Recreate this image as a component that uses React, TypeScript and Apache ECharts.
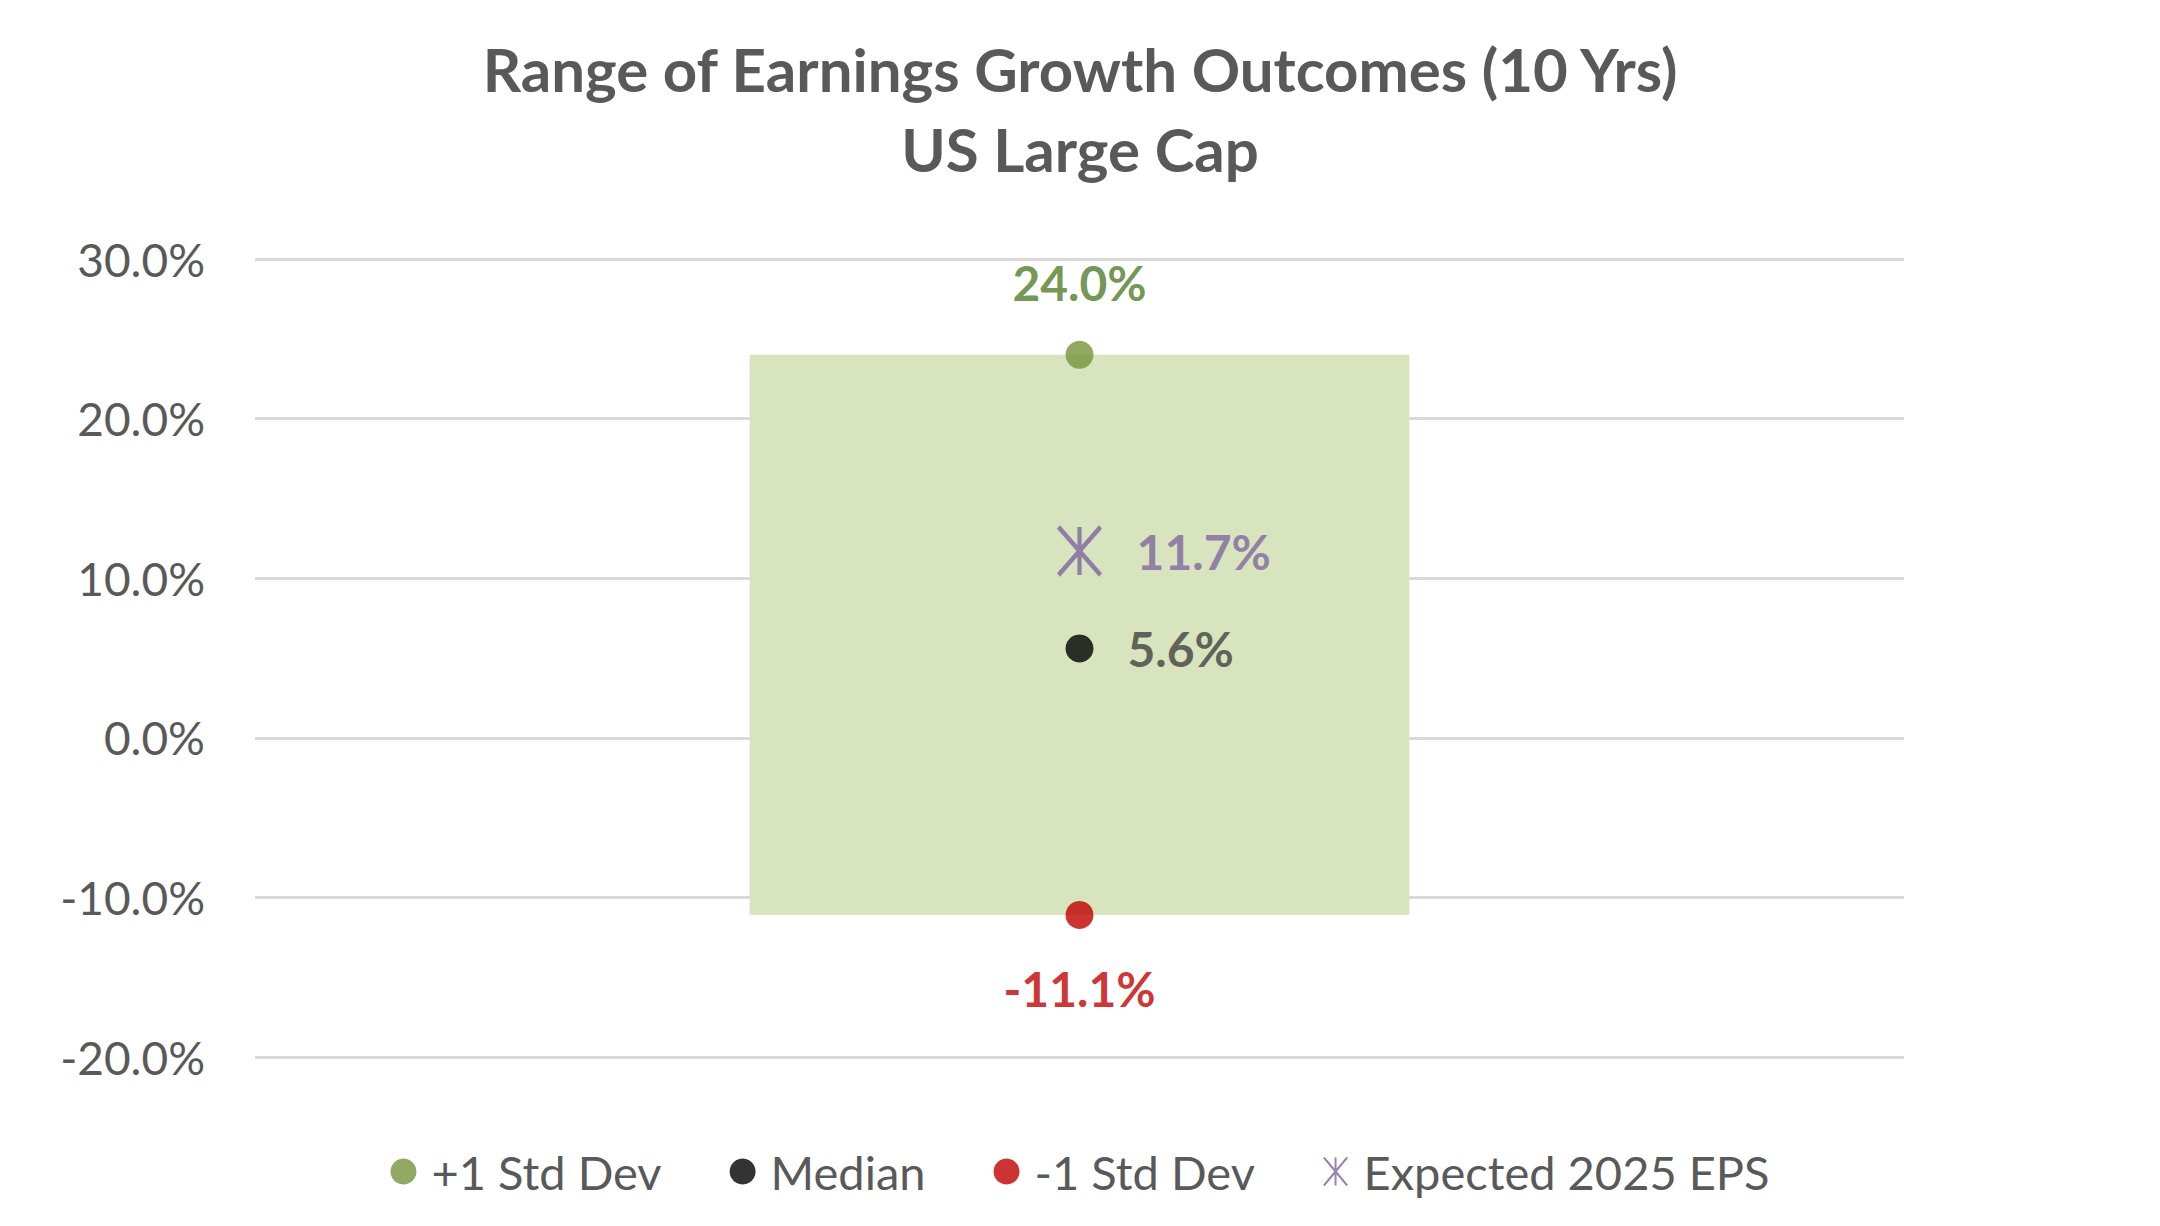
import React, { useEffect, useRef } from "react";
import * as echarts from "echarts";

const categories = ["US Large Cap"];
const plusStdDev = [24.0];
const median = [5.6];
const minusStdDev = [-11.1];
const expectedEps = [11.7];
const yTicks = { min: -20, max: 30, interval: 10 };

const FONT = "Lato, 'Open Sans', sans-serif";
const ASTERISK = "path://M0,0L10,12M10,0L0,12M5,0L5,12";

export default function App() {
  const ref = useRef<HTMLDivElement>(null);
  useEffect(() => {
    document.body.style.margin = "0";
    const chart = echarts.init(ref.current!, null, { renderer: "svg" });
    const fmt = (v: number) => v.toFixed(1) + "%";
    const option: any = {
      animation: false,
      backgroundColor: "#ffffff",
      title: {
        text: "Range of Earnings Growth Outcomes (10 Yrs)\nUS Large Cap",
        left: "center",
        top: 24,
        textStyle: {
          fontFamily: FONT,
          fontSize: 60,
          fontWeight: "bold",
          color: "#595959",
          lineHeight: 80,
        },
      },
      grid: { left: 255, right: 256, top: 259, bottom: 169 },
      xAxis: {
        type: "category",
        data: categories,
        axisLine: { show: false },
        axisTick: { show: false },
        axisLabel: { show: false },
      },
      yAxis: {
        type: "value",
        min: yTicks.min,
        max: yTicks.max,
        interval: yTicks.interval,
        axisLine: { show: false },
        axisTick: { show: false },
        splitLine: { lineStyle: { color: "#D9D9D9", width: 3 } },
        axisLabel: {
          formatter: fmt,
          fontFamily: FONT,
          fontSize: 46,
          color: "#595959",
          margin: 50,
        },
      },
      legend: {
        bottom: 26,
        left: "center",
        itemGap: 68,
        itemWidth: 26,
        itemHeight: 28,
        data: [
          { name: "+1 Std Dev", icon: "circle" },
          { name: "Median", icon: "circle" },
          { name: "-1 Std Dev", icon: "circle" },
          { name: "Expected 2025 EPS", icon: ASTERISK },
        ],
        textStyle: { fontFamily: FONT, fontSize: 47, color: "#595959", padding: [0, 0, 0, 10] },
      },
      series: [
        {
          type: "custom",
          name: "range",
          silent: true,
          z: 1,
          data: categories.map((c, i) => [i, minusStdDev[i], plusStdDev[i]]),
          renderItem: (params: any, api: any) => {
            const lo = api.coord([api.value(0), api.value(1)]);
            const hi = api.coord([api.value(0), api.value(2)]);
            const w = api.size([1, 0])[0] * 0.4;
            return {
              type: "rect",
              shape: { x: lo[0] - w / 2, y: hi[1], width: w, height: lo[1] - hi[1] },
              style: { fill: "#D7E4BD" },
            };
          },
        },
        {
          type: "scatter",
          name: "+1 Std Dev",
          z: 3,
          symbol: "circle",
          symbolSize: 28,
          itemStyle: { color: "#77933C" },
          data: plusStdDev,
          label: {
            show: true,
            position: "top",
            distance: 34,
            formatter: (p: any) => fmt(p.value),
            fontFamily: FONT,
            fontSize: 48,
            fontWeight: "bold",
            color: "#4F7A28",
          },
        },
        {
          type: "scatter",
          name: "Median",
          z: 3,
          symbol: "circle",
          symbolSize: 28,
          itemStyle: { color: "#000000" },
          data: median,
          label: {
            show: true,
            position: "right",
            distance: 34,
            formatter: (p: any) => fmt(p.value),
            fontFamily: FONT,
            fontSize: 48,
            fontWeight: "bold",
            color: "#404040",
          },
        },
        {
          type: "scatter",
          name: "-1 Std Dev",
          z: 3,
          symbol: "circle",
          symbolSize: 28,
          itemStyle: { color: "#C00000" },
          data: minusStdDev,
          label: {
            show: true,
            position: "bottom",
            distance: 36,
            formatter: (p: any) => fmt(p.value),
            fontFamily: FONT,
            fontSize: 48,
            fontWeight: "bold",
            color: "#C00000",
          },
        },
        {
          type: "scatter",
          name: "Expected 2025 EPS",
          z: 3,
          symbol: ASTERISK,
          symbolSize: [42, 48],
          itemStyle: { color: "transparent", borderColor: "#8064A2", borderWidth: 4.5 },
          data: expectedEps,
          label: {
            show: true,
            position: "right",
            distance: 34,
            formatter: (p: any) => fmt(p.value),
            fontFamily: FONT,
            fontSize: 48,
            fontWeight: "bold",
            color: "#8064A2",
          },
        },
      ],
    };
    chart.setOption(option);
    return () => chart.dispose();
  }, []);
  return <div ref={ref} style={{ position: "fixed", left: 0, top: 0, width: 2160, height: 1226 }} />;
}
